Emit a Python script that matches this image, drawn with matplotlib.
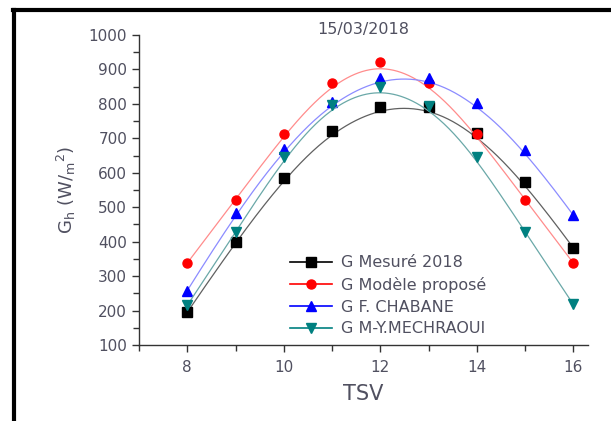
import numpy as np
import matplotlib
matplotlib.use("Agg")
import matplotlib.pyplot as plt
from matplotlib.lines import Line2D
from matplotlib.ticker import MultipleLocator

plt.rcParams["font.family"] = ["DejaVu Sans"]
plt.rcParams["mathtext.default"] = "regular"

# Hourly irradiance, 15/03/2018
tsv = [8, 9, 10, 11, 12, 13, 14, 15, 16]
g_mesure = [195, 400, 585, 720, 790, 790, 715, 572, 382]
g_modele = [338, 522, 712, 862, 922, 862, 712, 522, 338]
g_chabane = [258, 482, 670, 805, 875, 875, 803, 667, 477]
g_mechraoui = [215, 428, 647, 798, 850, 795, 647, 428, 218]

labels = ["G Mesuré 2018", "G Modèle proposé", "G F. CHABANE", "G M-Y.MECHRAOUI"]
colors = ["#000000", "#ff0000", "#0000ff", "#008080"]
line_colors = ["#606060", "#ff8c8c", "#8c8cff", "#6aa8a8"]
markers = ["s", "o", "^", "v"]


def bspline(xs, ys, n=300, k=3):
    # clamped uniform cubic B-spline using the points as control points
    ctrl = np.column_stack([xs, ys]).astype(float)
    m = len(ctrl)
    knots = np.concatenate([np.zeros(k), np.linspace(0, 1, m - k + 1), np.ones(k)])
    t = np.linspace(0, 1, n)
    N = np.zeros((n, len(knots) - 1))
    for i in range(len(knots) - 1):
        N[:, i] = (knots[i] <= t) & (t < knots[i + 1])
    N[-1, m - 1] = 1.0
    for d in range(1, k + 1):
        new = np.zeros((n, len(knots) - 1 - d))
        for i in range(len(knots) - 1 - d):
            a = knots[i + d] - knots[i]
            b = knots[i + d + 1] - knots[i + 1]
            if a > 0:
                new[:, i] += (t - knots[i]) / a * N[:, i]
            if b > 0:
                new[:, i] += (knots[i + d + 1] - t) / b * N[:, i + 1]
        N = new
    pts = N @ ctrl
    return pts[:, 0], pts[:, 1]


fig = plt.figure(figsize=(6.11, 4.21), dpi=100)
ax = fig.add_axes([0.2275, 0.1805, 0.7345, 0.7364])

series = [g_mesure, g_modele, g_chabane, g_mechraoui]
for ys, c, lc, mk in zip(series, colors, line_colors, markers):
    cx, cy = bspline(tsv, ys)
    ax.plot(cx, cy, color=lc, lw=0.9)
    ax.plot(tsv, ys, ls="none", marker=mk, color=c, ms=6.5, mec=c)

ax.set_xlim(7, 16.3)
ax.set_ylim(100, 1000)
ax.xaxis.set_major_locator(MultipleLocator(2))
ax.xaxis.set_minor_locator(MultipleLocator(1))
ax.yaxis.set_major_locator(MultipleLocator(100))
ax.yaxis.set_minor_locator(MultipleLocator(50))
for s in ["top", "right"]:
    ax.spines[s].set_visible(False)
for s in ["left", "bottom"]:
    ax.spines[s].set_color("#333333")
    ax.spines[s].set_linewidth(1.0)
ax.tick_params(which="major", length=5, width=1, color="#333333",
               labelsize=11, labelcolor="#505060")
ax.tick_params(which="minor", length=4, width=1, color="#333333")
ax.tick_params(axis="x", pad=6)

ax.set_xlabel("TSV", fontsize=15, color="#505060", labelpad=6)
ax.set_ylabel("G$_{h}$ (W/$_{m}$$^{2}$)", fontsize=13, color="#505060", labelpad=8)

fig.text(0.594, 0.93, "15/03/2018", fontsize=11.5, color="#505060",
         ha="center", va="center")

handles = [Line2D([], [], color=c, marker=mk, ms=6.5, lw=1.2)
           for c, mk in zip(colors, markers)]
leg = ax.legend(handles, labels, loc="upper left", bbox_to_anchor=(0.319, 0.315),
                frameon=False, fontsize=11.5, handlelength=2.6,
                labelspacing=0.42, handletextpad=0.6, borderpad=0)
for txt in leg.get_texts():
    txt.set_color("#505060")

# box edges of the page around the figure
fig.add_artist(Line2D([0.021, 1.0], [0.976, 0.976], color="black", lw=3,
                      transform=fig.transFigure))
fig.add_artist(Line2D([0.023, 0.023], [0.976, 0.005], color="black", lw=3,
                      transform=fig.transFigure))

fig.savefig("out.png", dpi=100)
